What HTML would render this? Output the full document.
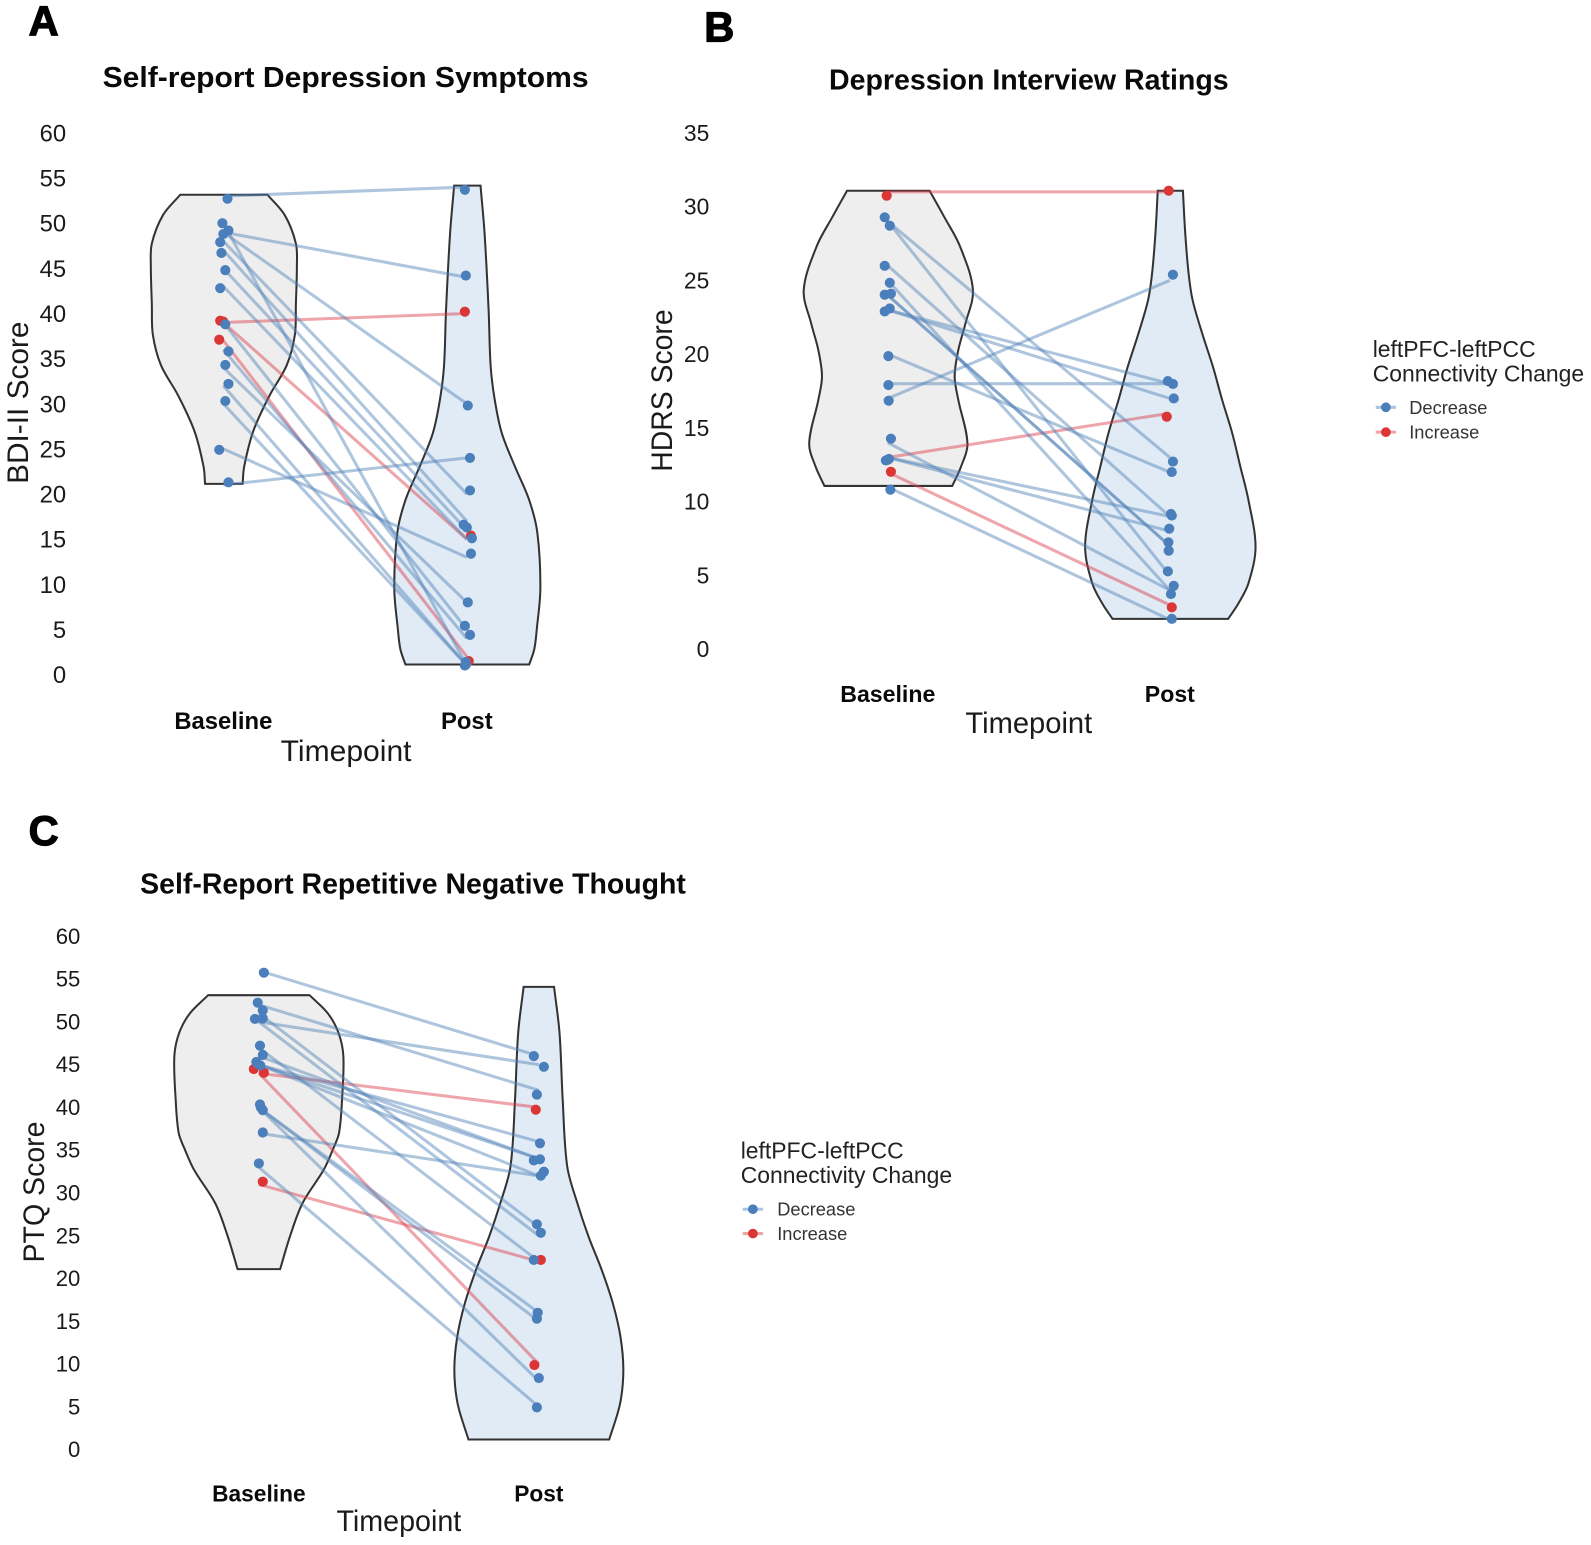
<!DOCTYPE html>
<html lang="en">
<head>
<meta charset="utf-8">
<title>Depression and rumination scores by timepoint</title>
<style>
html,body{margin:0;padding:0;background:#fff;width:1591px;height:1545px;overflow:hidden}
svg{display:block}
text{font-family:"Liberation Sans",sans-serif;fill:#111}
.panel-letter{font-weight:700;font-size:41px;fill:#000;stroke:#000;stroke-width:1.2px}
.title{font-weight:700;font-size:28px;fill:#0a0a0a}
.tick{font-size:23px;text-anchor:end;dominant-baseline:central;fill:#1a1a1a}
.cat{font-weight:700;font-size:23px;text-anchor:middle;dominant-baseline:central;fill:#0a0a0a}
.axis{font-size:29px;text-anchor:middle;dominant-baseline:central;fill:#1a1a1a}
.legend-title{font-size:22.6px;fill:#222}
.legend-label{font-size:18px;fill:#333;dominant-baseline:central}
</style>
</head>
<body>
<svg id="figure" xmlns="http://www.w3.org/2000/svg" width="1591" height="1545" viewBox="0 0 1568 1523">
  <rect width="1568" height="1523" fill="#fff"/>

  <text class="panel-letter" x="28" y="35">A</text>
  <text class="panel-letter" x="694" y="41">B</text>
  <text class="panel-letter" x="28" y="833">C</text>

  <g id="panelA">
    <text class="title" x="101" y="86" textLength="479" lengthAdjust="spacingAndGlyphs">Self-report Depression Symptoms</text>
    <text class="axis" transform="translate(18 397) rotate(-90)" textLength="160" lengthAdjust="spacingAndGlyphs">BDI-II Score</text>
    <text class="axis" x="341" y="741" textLength="129" lengthAdjust="spacingAndGlyphs">Timepoint</text>
  </g>

  <g id="panelB">
    <text class="title" x="817" y="88" textLength="394" lengthAdjust="spacingAndGlyphs">Depression Interview Ratings</text>
    <text class="axis" transform="translate(653 385) rotate(-90)" textLength="160" lengthAdjust="spacingAndGlyphs">HDRS Score</text>
    <text class="axis" x="1014" y="713" textLength="125" lengthAdjust="spacingAndGlyphs">Timepoint</text>
  </g>

  <g id="panelC">
    <text class="title" x="138" y="881" textLength="538" lengthAdjust="spacingAndGlyphs">Self-Report Repetitive Negative Thought</text>
    <text class="axis" transform="translate(34 1175) rotate(-90)" textLength="139" lengthAdjust="spacingAndGlyphs">PTQ Score</text>
    <text class="axis" x="393" y="1500" textLength="123" lengthAdjust="spacingAndGlyphs">Timepoint</text>
  </g>

  <g>
    <text class="legend-title" x="1353" y="352">leftPFC-leftPCC</text>
    <text class="legend-title" x="1353" y="376">Connectivity Change</text>
    <g>
      <line x1="1356" x2="1376" y1="401.5" y2="401.5" stroke="#4a7fbc" stroke-opacity=".45" stroke-width="3"/>
      <circle cx="1366" cy="401.5" r="4.8" fill="#4a7fbc"/>
      <text class="legend-label" x="1389" y="401.5">Decrease</text>
    </g>
    <g>
      <line x1="1356" x2="1376" y1="426" y2="426" stroke="#db3535" stroke-opacity=".45" stroke-width="3"/>
      <circle cx="1366" cy="426" r="4.8" fill="#db3535"/>
      <text class="legend-label" x="1389" y="426">Increase</text>
    </g>
  </g>

  <g>
    <text class="legend-title" x="730" y="1142">leftPFC-leftPCC</text>
    <text class="legend-title" x="730" y="1166">Connectivity Change</text>
    <g>
      <line x1="732" x2="752" y1="1192" y2="1192" stroke="#4a7fbc" stroke-opacity=".45" stroke-width="3"/>
      <circle cx="742" cy="1192" r="4.8" fill="#4a7fbc"/>
      <text class="legend-label" x="766" y="1192">Decrease</text>
    </g>
    <g>
      <line x1="732" x2="752" y1="1216" y2="1216" stroke="#db3535" stroke-opacity=".45" stroke-width="3"/>
      <circle cx="742" cy="1216" r="4.8" fill="#db3535"/>
      <text class="legend-label" x="766" y="1216">Increase</text>
    </g>
  </g>
</svg>

<script>
const categories = ['Baseline', 'Post'];

/* Panel A: BDI-II */
const bdiTicks = [0, 5, 10, 15, 20, 25, 30, 35, 40, 45, 50, 55, 60];
const bdiBaseline = [52.7, 49.2, 39.1, 39.2, 37.1, 21.3, 24.9, 48.8, 47.9, 46.7, 44.8, 42.8, 50.0, 38.8, 35.8, 34.3, 32.2, 30.3];
const bdiPost = [53.7, 44.2, 40.2, 15.4, 1.5, 24.0, 13.4, 29.8, 20.4, 16.6, 16.3, 15.1, 1.1, 5.4, 4.4, 8.0, 1.4, 1.0];
const bdiChange = ['Decrease', 'Decrease', 'Increase', 'Increase', 'Increase', 'Decrease', 'Decrease', 'Decrease', 'Decrease', 'Decrease', 'Decrease', 'Decrease', 'Decrease', 'Decrease', 'Decrease', 'Decrease', 'Decrease', 'Decrease'];
const bdiBaselineJitter = [0.017, 0.021, 0, -0.013, -0.017, 0.021, -0.017, 0, -0.013, -0.008, 0.008, -0.013, -0.004, 0.008, 0.021, 0.008, 0.021, 0.008];
const bdiPostJitter = [-0.008, -0.004, -0.008, 0.017, 0.008, 0.013, 0.017, 0.004, 0.013, -0.013, 0, 0.021, -0.004, -0.008, 0.013, 0.004, -0.004, -0.008];
const bdiBaselineLevels = [53.15, 50.9, 47.75, 45.28, 41.0, 37.64, 34.27, 30.9, 26.97, 23.03, 21.12];
const bdiBaselineDensity = [43, 60, 71, 72, 71, 70, 62, 45, 29, 20, 18.5];
const bdiPostLevels = [54.16, 48.88, 40.34, 34.16, 30.45, 26.74, 23.03, 19.33, 15.73, 9.55, 5.06, 2.81, 1.12];
const bdiPostDensity = [13, 17, 21, 23, 27, 34, 47, 61, 69, 72, 68.5, 66, 61];

/* Panel B: HDRS */
const hdrsTicks = [0, 5, 10, 15, 20, 25, 30, 35];
const hdrsBaseline = [30.74, 12.85, 12.03, 17.91, 16.85, 19.87, 23.10, 22.90, 12.9, 12.8, 14.27, 10.82, 28.71, 29.28, 25.99, 24.84, 24.03, 24.10];
const hdrsPost = [31.08, 15.76, 2.84, 17.98, 25.39, 12.01, 18.18, 17.0, 9.17, 8.17, 4.30, 2.06, 12.72, 5.28, 9.06, 3.74, 6.68, 7.25];
const hdrsChange = ['Increase', 'Increase', 'Increase', 'Decrease', 'Decrease', 'Decrease', 'Decrease', 'Decrease', 'Decrease', 'Decrease', 'Decrease', 'Decrease', 'Decrease', 'Decrease', 'Decrease', 'Decrease', 'Decrease', 'Decrease'];
const hdrsBaselineJitter = [-0.004, 0, 0.011, 0.002, 0.003, 0.002, 0.007, -0.011, 0.004, -0.007, 0.011, 0.009, 0.007, -0.011, -0.011, 0.007, -0.011, 0.011];
const hdrsPostJitter = [-0.004, -0.011, 0.007, 0.011, 0.011, 0.007, -0.007, 0.014, 0.004, -0.002, 0.014, 0.007, 0.011, -0.007, 0.007, 0.004, -0.004, -0.005];
const hdrsBaselineLevels = [31.08, 29.32, 27.3, 24.34, 22.07, 20.28, 18.5, 16.9, 13.96, 12.38, 11.07];
const hdrsBaselineDensity = [40.7, 55, 70.7, 83.4, 76, 69, 65.4, 69, 78, 71.7, 63];
const hdrsPostLevels = [31.08, 28.19, 25.48, 23.65, 21.39, 19.15, 16.92, 14.65, 12.38, 10.11, 6.94, 4.47, 3.09, 2.06];
const hdrsPostDensity = [12.4, 14.7, 18, 22, 31.5, 42, 51, 61, 69, 77, 84, 77, 67, 57];

/* Panel C: PTQ */
const ptqTicks = [0, 5, 10, 15, 20, 25, 30, 35, 40, 45, 50, 55, 60];
const ptqBaseline = [44.05, 44.49, 31.32, 55.75, 50.41, 52.25, 33.46, 37.07, 45.31, 44.91, 46.13, 45.18, 51.35, 50.34, 47.22, 40.35, 39.68, 40.0];
const ptqPost = [39.74, 9.89, 22.18, 46.0, 44.75, 41.5, 4.94, 32.49, 35.81, 33.94, 33.81, 32.02, 26.34, 25.35, 22.17, 16.0, 15.31, 8.37];
const ptqChange = ['Increase', 'Increase', 'Increase', 'Decrease', 'Decrease', 'Decrease', 'Decrease', 'Decrease', 'Decrease', 'Decrease', 'Decrease', 'Decrease', 'Decrease', 'Decrease', 'Decrease', 'Decrease', 'Decrease', 'Decrease'];
const ptqBaselineJitter = [0.018, -0.018, 0.014, 0.018, 0.014, -0.004, 0, 0.014, -0.009, 0.005, 0.014, -0.007, 0.014, -0.014, 0.004, 0.004, 0.014, 0.007];
const ptqPostJitter = [-0.011, -0.016, 0.007, -0.018, 0.018, -0.007, -0.007, 0.018, 0.004, 0.004, -0.018, 0.007, -0.007, 0.007, -0.018, -0.004, -0.007, 0];
const ptqBaselineLevels = [53.12, 51.0, 48.69, 46.0, 40.9, 37.0, 35.1, 32.73, 28.8, 24.9, 21.1];
const ptqBaselineDensity = [50, 68, 78.6, 83.3, 82, 79, 73, 64, 43, 30.6, 21];
const ptqPostLevels = [54.09, 48.69, 40.9, 33.08, 28.8, 24.9, 21.0, 17.08, 13.16, 9.25, 5.34, 1.19];
const ptqPostDensity = [15, 20.4, 23.5, 28, 38, 49, 62, 73, 80.5, 83.3, 80, 69.4];

const SVG_NS = 'http://www.w3.org/2000/svg';
const COLORS = { Decrease: '#4a7fbc', Increase: '#db3535' };
const LINE_COLORS = { Decrease: '#4f80b8', Increase: '#d93a48' };

function makeLinear(d0, d1, r0, r1) {
  return function (v) { return r0 + (v - d0) * (r1 - r0) / (d1 - d0); };
}

function unit(a, b) {
  const dx = b[0] - a[0];
  const dy = b[1] - a[1];
  const len = Math.hypot(dx, dy) || 1;
  return [dx / len, dy / len];
}

function smoothSegments(pts) {
  let d = '';
  for (let i = 0; i < pts.length - 1; i++) {
    const p1 = pts[i];
    const p2 = pts[i + 1];
    const t1 = unit(pts[Math.max(i - 1, 0)], p2);
    const t2 = unit(p1, pts[Math.min(i + 2, pts.length - 1)]);
    const h = Math.hypot(p2[0] - p1[0], p2[1] - p1[1]) / 3;
    d += 'C' + (p1[0] + t1[0] * h).toFixed(2) + ' ' + (p1[1] + t1[1] * h).toFixed(2) + ' ' +
      (p2[0] - t2[0] * h).toFixed(2) + ' ' + (p2[1] - t2[1] * h).toFixed(2) + ' ' +
      p2[0].toFixed(2) + ' ' + p2[1].toFixed(2);
  }
  return d;
}

function violinPath(cx, levels, density, y) {
  const right = levels.map(function (v, i) { return [cx + density[i], y(v)]; });
  const left = levels.map(function (v, i) { return [cx - density[i], y(v)]; }).reverse();
  return 'M' + right[0][0].toFixed(2) + ' ' + right[0][1].toFixed(2) + smoothSegments(right) +
    'L' + left[0][0].toFixed(2) + ' ' + left[0][1].toFixed(2) + smoothSegments(left) + 'Z';
}

function addText(parent, cls, x, y, content) {
  const t = document.createElementNS(SVG_NS, 'text');
  t.setAttribute('class', cls);
  t.setAttribute('x', x);
  t.setAttribute('y', y);
  t.textContent = content;
  parent.appendChild(t);
  return t;
}

function drawPanel(cfg) {
  const root = document.getElementById(cfg.id);
  const y = makeLinear(0, cfg.yMax, cfg.yZero, cfg.yTop);
  const x = makeLinear(0, 1, cfg.xBaseline, cfg.xPost);

  cfg.ticks.forEach(function (tick) {
    const label = addText(root, 'tick', cfg.tickX, y(tick) + cfg.tickNudge, String(tick));
    label.style.fontSize = cfg.tickSize + 'px';
    
    
  });

  categories.forEach(function (name, i) {
    const label = addText(root, 'cat', x(i), cfg.catY, name);
    label.style.fontSize = cfg.catSize + 'px';
    
    
  });

  const violins = [
    { levels: cfg.baselineLevels, density: cfg.baselineDensity, pos: 0, fill: '#eeeeee', name: 'baseline' },
    { levels: cfg.postLevels, density: cfg.postDensity, pos: 1, fill: '#e0ebf5', name: 'post' }
  ];
  violins.forEach(function (v) {
    const p = document.createElementNS(SVG_NS, 'path');
    p.setAttribute('d', violinPath(x(v.pos) + cfg.violinShift, v.levels, v.density, y));
    p.setAttribute('fill', v.fill);
    p.setAttribute('stroke', '#333');
    p.setAttribute('stroke-width', '2');
    p.setAttribute('stroke-linejoin', 'miter');
    
    
    root.appendChild(p);
  });

  /* Paired lines run between category centres at the whole-number score;
     the dots carry the jitter. */
  cfg.baseline.forEach(function (value, i) {
    const l = document.createElementNS(SVG_NS, 'line');
    l.setAttribute('x1', x(0));
    l.setAttribute('y1', y(Math.round(value)));
    l.setAttribute('x2', x(1));
    l.setAttribute('y2', y(Math.round(cfg.post[i])));
    l.setAttribute('stroke', LINE_COLORS[cfg.change[i]]);
    l.setAttribute('stroke-opacity', '0.46');
    l.setAttribute('stroke-width', '3');
    
    
    root.appendChild(l);
  });

  const order = cfg.baseline.map(function (_, i) { return i; }).sort(function (a, b) {
    return (cfg.change[b] === 'Increase' ? 1 : 0) - (cfg.change[a] === 'Increase' ? 1 : 0);
  });
  order.forEach(function (i) {
    const a = document.createElementNS(SVG_NS, 'circle');
    a.setAttribute('cx', x(cfg.baseJitter[i]));
    a.setAttribute('cy', y(cfg.baseline[i]));
    a.setAttribute('r', '5');
    a.setAttribute('fill', COLORS[cfg.change[i]]);
    
    
    root.appendChild(a);

    const b = document.createElementNS(SVG_NS, 'circle');
    b.setAttribute('cx', x(1 + cfg.postJitter[i]));
    b.setAttribute('cy', y(cfg.post[i]));
    b.setAttribute('r', '5');
    b.setAttribute('fill', COLORS[cfg.change[i]]);
    
    
    root.appendChild(b);
  });
}

drawPanel({
  id: 'panelA', prefix: 'bdi', ticks: bdiTicks, yMax: 60, yZero: 665, yTop: 131, tickNudge: 1,
  xBaseline: 220, xPost: 460, tickX: 65, tickSize: 23.5, catY: 711, catSize: 23.5, violinShift: 0.5,
  baseline: bdiBaseline, post: bdiPost, change: bdiChange,
  baseJitter: bdiBaselineJitter, postJitter: bdiPostJitter,
  baselineLevels: bdiBaselineLevels, baselineDensity: bdiBaselineDensity,
  postLevels: bdiPostLevels, postDensity: bdiPostDensity
});

drawPanel({
  id: 'panelB', prefix: 'hdrs', ticks: hdrsTicks, yMax: 35, yZero: 640, yTop: 131, tickNudge: 0,
  xBaseline: 875, xPost: 1153, tickX: 699, tickSize: 22.5, catY: 684, catSize: 22.8, violinShift: 0.5,
  baseline: hdrsBaseline, post: hdrsPost, change: hdrsChange,
  baseJitter: hdrsBaselineJitter, postJitter: hdrsPostJitter,
  baselineLevels: hdrsBaselineLevels, baselineDensity: hdrsBaselineDensity,
  postLevels: hdrsPostLevels, postDensity: hdrsPostDensity
});

drawPanel({
  id: 'panelC', prefix: 'ptq', ticks: ptqTicks, yMax: 60, yZero: 1429, yTop: 923, tickNudge: 0,
  xBaseline: 255, xPost: 531, tickX: 79, tickSize: 21.8, catY: 1472, catSize: 22.4, violinShift: 0,
  baseline: ptqBaseline, post: ptqPost, change: ptqChange,
  baseJitter: ptqBaselineJitter, postJitter: ptqPostJitter,
  baselineLevels: ptqBaselineLevels, baselineDensity: ptqBaselineDensity,
  postLevels: ptqPostLevels, postDensity: ptqPostDensity
});
</script>
</body>
</html>
